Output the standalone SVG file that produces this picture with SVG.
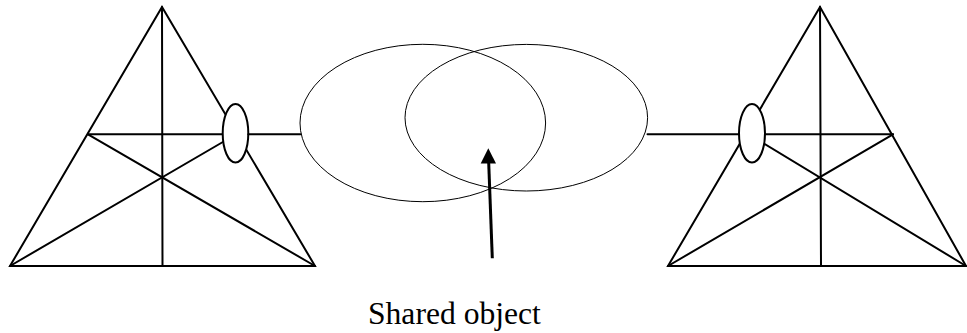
<svg xmlns="http://www.w3.org/2000/svg" width="967" height="333" viewBox="0 0 967 333">
<style>
.t{stroke:#000;stroke-width:2;fill:none;stroke-linecap:round}
.port{stroke:#000;stroke-width:2;fill:#fff}
.obj{stroke:#000;stroke-width:1;fill:none}
.lbl{font-family:"Liberation Serif","Times New Roman",serif;font-size:31.6px;fill:#000}
</style>
<defs>
<marker id="ah" markerWidth="6" markerHeight="6" refX="5" refY="3" orient="auto" markerUnits="strokeWidth">
<path d="M0,0 L5,3 L0,6 Z" fill="#000"/>
</marker>
</defs>
<g id="left-triangle">
<path class="t" d="M10,266 L162,7 L315,266 Z"/>
<line class="t" x1="162" y1="7" x2="162.5" y2="266"/>
<line class="t" x1="88" y1="134.3" x2="230" y2="134.3"/>
<line class="t" x1="88" y1="134.3" x2="315" y2="266"/>
<line class="t" x1="10" y1="266" x2="228" y2="139"/>
<ellipse class="port" cx="235.5" cy="133.3" rx="12.8" ry="29.3"/>
</g>
<g id="right-triangle">
<path class="t" d="M668,266 L820,7 L966,266 Z"/>
<line class="t" x1="820" y1="7" x2="821" y2="266"/>
<line class="t" x1="745" y1="134.3" x2="893" y2="134.3"/>
<line class="t" x1="893" y1="134.3" x2="668" y2="266"/>
<line class="t" x1="966" y1="266" x2="758" y2="140"/>
<ellipse class="port" cx="752" cy="133.3" rx="13" ry="29.3"/>
</g>
<g id="shared-object">
<ellipse class="obj" cx="422.8" cy="123" rx="122.8" ry="78.7"/>
<ellipse class="obj" cx="526.3" cy="117.7" rx="121.3" ry="73.3"/>
</g>
<g id="connectors">
<line class="t" x1="248.3" y1="134.3" x2="300.5" y2="134.3"/>
<line class="t" x1="647.5" y1="134.3" x2="739" y2="134.3"/>
<line x1="492.3" y1="258.3" x2="488.6" y2="160" stroke="#000" stroke-width="3"/>
<path d="M488.3,148.3 L496,163.5 L480.7,163.5 Z" fill="#000"/>
</g>
<g id="label">
<text class="lbl" x="368" y="324">Shared object</text>
</g>
</svg>
